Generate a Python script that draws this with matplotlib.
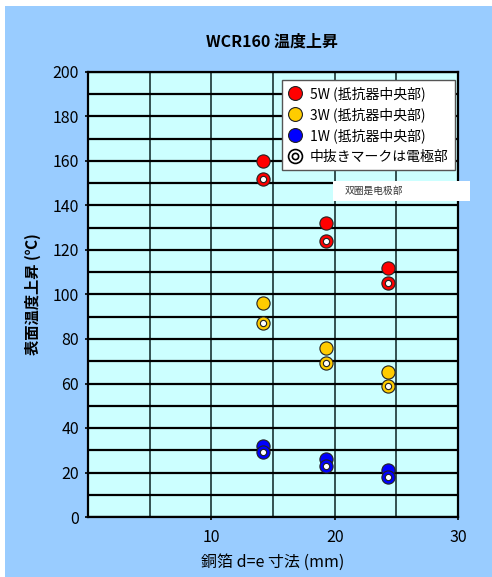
import numpy as np
import matplotlib.pyplot as plt
from matplotlib.lines import Line2D
from matplotlib.patches import Rectangle

plt.rcParams['font.family'] = ['Noto Sans CJK JP', 'DejaVu Sans']

# 銅箔寸法 (mm)
x = np.array([14.2, 19.3, 24.3])

# 抵抗器中央部 (塗りつぶし)
t5w = np.array([160, 132, 112])
t3w = np.array([96, 76, 65])
t1w = np.array([32, 26, 21])
# 電極部 (中抜き)
t5w_e = np.array([152, 124, 105])
t3w_e = np.array([87, 69, 59])
t1w_e = np.array([29, 23, 18])

colores = {'5W': '#FF0000', '3W': '#FFCC00', '1W': '#0000FF'}

fig = plt.figure(figsize=(4.92, 5.77), dpi=100, facecolor='white')
# fondo azul claro
fig.patches.append(Rectangle((5/492, 0), 1 - 5/492, 1 - 6/577, transform=fig.transFigure,
                             facecolor='#99CCFF', edgecolor='none', zorder=-10))

ax = fig.add_axes([88/492, 1 - 517/577, 370/492, 445/577])
ax.set_facecolor('#CCFFFF')
ax.set_xlim(0, 30)
ax.set_ylim(0, 200)
ax.set_xticks([10, 20, 30])
ax.set_xticks(np.arange(0, 31, 5), minor=True)
ax.set_yticks(np.arange(0, 201, 20))
ax.set_yticks(np.arange(0, 201, 10), minor=True)
ax.tick_params(which='minor', length=0)
ax.tick_params(which='major', length=2.5, width=1.2)
ax.tick_params(axis='x', pad=6, labelsize=11.5)
ax.tick_params(axis='y', pad=4, labelsize=11.5)
ax.set_axisbelow(True)
ax.grid(True, which='both', axis='y', color='black', lw=1.6)
ax.grid(True, which='both', axis='x', color='#1a3333', lw=1.2)
for s in ax.spines.values():
    s.set_color('black')
    s.set_linewidth(1.6)

for t, te, k in [(t5w, t5w_e, '5W'), (t3w, t3w_e, '3W'), (t1w, t1w_e, '1W')]:
    c = colores[k]
    ax.plot(x, t, 'o', ms=9.5, mfc=c, mec='#222222', mew=0.8, zorder=5, clip_on=False)
    ax.plot(x, te, 'o', ms=9.5, mfc=c, mec='#222222', mew=0.8, zorder=5, clip_on=False)
    ax.plot(x, te, 'o', ms=4.5, mfc='white', mec='#222222', mew=0.8, zorder=6, clip_on=False)

handles = [
    Line2D([], [], ls='none', marker='o', ms=10, mfc=colores['5W'], mec='#222222', mew=0.8),
    Line2D([], [], ls='none', marker='o', ms=10, mfc=colores['3W'], mec='#222222', mew=0.8),
    Line2D([], [], ls='none', marker='o', ms=10, mfc=colores['1W'], mec='#222222', mew=0.8),
    (Line2D([], [], ls='none', marker='o', ms=10, mfc='white', mec='black', mew=1.2),
     Line2D([], [], ls='none', marker='o', ms=4.5, mfc='white', mec='black', mew=1.2)),
]
etiquetas = ['5W (抵抗器中央部)', '3W (抵抗器中央部)', '1W (抵抗器中央部)', '中抜きマークは電極部']
leg = ax.legend(handles, etiquetas, loc='upper right', bbox_to_anchor=(0.992, 0.982),
                borderaxespad=0, fontsize=10, frameon=True, fancybox=False, framealpha=1,
                edgecolor='#555555', handletextpad=0.5, borderpad=0.45, labelspacing=0.45,
                handlelength=1.1)
leg.get_frame().set_linewidth(1.0)
leg.set_zorder(10)

fig.patches.append(Rectangle((333/492, 1 - 201/577), 137/492, 20/577, transform=fig.transFigure,
                             facecolor='white', edgecolor='none', zorder=20))
fig.text(345/492, 1 - 191/577, '双圈是电极部', fontsize=7, color='#333333',
         va='center', ha='left', zorder=21, family=['Noto Sans CJK SC', 'DejaVu Sans'])

fig.text(272/492, 1 - 42/577, 'WCR160 温度上昇', fontsize=11.5, fontweight='bold',
         ha='center', va='center')
ax.set_xlabel('銅箔 d=e 寸法 (mm)', fontsize=11.5, labelpad=6)
ax.set_ylabel('表面温度上昇 (℃)', fontsize=11, fontweight='bold', labelpad=8)

fig.savefig('out.png', dpi=100, facecolor=fig.get_facecolor())
